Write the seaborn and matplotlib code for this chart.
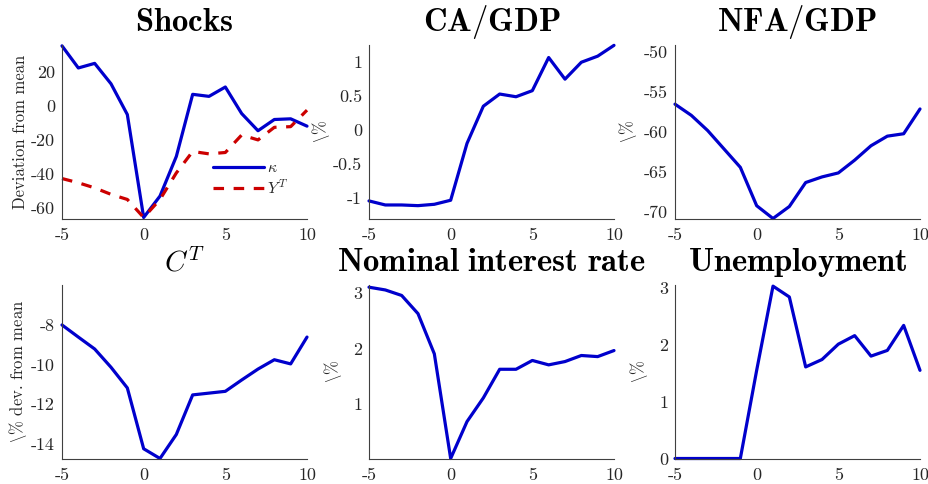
import numpy as np
import pandas as pd
import seaborn as sns
import matplotlib
matplotlib.use("Agg")
import matplotlib.pyplot as plt
from matplotlib.ticker import FuncFormatter, FixedLocator

# ---- data -----------------------------------------------------------------
periods = [-5, -4, -3, -2, -1, 0, 1, 2, 3, 4, 5, 6, 7, 8, 9, 10]

kappa = [35.5, 22.5, 25.2, 13.2, -4.9, -65.4, -52.8, -29.5, 7.0, 5.8, 11.3,
         -4.3, -14.4, -7.8, -7.4, -11.7]
y_tradable = [-42.5, -45.0, -48.0, -51.8, -54.8, -65.4, -54.8, -39.2, -26.6,
              -28.0, -27.2, -16.9, -19.8, -12.4, -12.0, -2.3]
ca_gdp = [-1.05, -1.11, -1.11, -1.12, -1.10, -1.04, -0.20, 0.35, 0.53, 0.49,
          0.58, 1.07, 0.75, 1.00, 1.09, 1.25]
nfa_gdp = [-56.5, -57.9, -59.8, -62.1, -64.4, -69.2, -70.8, -69.3, -66.3,
           -65.6, -65.1, -63.5, -61.7, -60.5, -60.2, -57.1]
c_tradable = [-8.01, -8.62, -9.22, -10.14, -11.18, -14.24, -14.73, -13.52,
              -11.53, -11.44, -11.35, -10.78, -10.23, -9.76, -9.97, -8.62]
nominal_rate = [3.11, 3.06, 2.96, 2.63, 1.90, 0.0, 0.67, 1.10, 1.62, 1.62,
                1.78, 1.70, 1.76, 1.87, 1.85, 1.96]
unemployment = [0.0, 0.0, 0.0, 0.0, 0.0, 1.55, 3.03, 2.84, 1.61, 1.74, 2.01,
                2.16, 1.80, 1.90, 2.34, 1.55]

titles = [r"$\mathbf{Shocks}$", r"$\mathbf{CA/GDP}$", r"$\mathbf{NFA/GDP}$",
          r"$C^T$", r"$\mathbf{Nominal\ interest\ rate}$",
          r"$\mathbf{Unemployment}$"]
ylabels = ["Deviation from mean", r"$\backslash$%", r"$\backslash$%",
           r"$\backslash$% dev. from mean", r"$\backslash$%", r"$\backslash$%"]
xticks = [-5, 0, 5, 10]
yticks = [[-60, -40, -20, 0, 20], [-1, -0.5, 0, 0.5, 1],
          [-70, -65, -60, -55, -50], [-14, -12, -10, -8], [1, 2, 3],
          [0, 1, 2, 3]]
ylims = [(-66, 36), (-1.31, 1.255), (-70.8, -49.1), (-14.73, -6.0),
         (0, 3.15), (0, 3.05)]
legend_labels = [r"$\kappa$", r"$Y^T$"]

# ---- style ----------------------------------------------------------------
sns.set_theme(style="white")
plt.rcParams.update({
    "font.family": ["cmr10", "DejaVu Serif"],
    "mathtext.fontset": "cm",
    "axes.unicode_minus": False,
    "axes.formatter.use_mathtext": True,
    "axes.edgecolor": "#404040",
    "axes.linewidth": 0.8,
    "xtick.color": "#404040",
    "ytick.color": "#404040",
    "xtick.labelcolor": "#262626",
    "ytick.labelcolor": "#262626",
})

BLUE = "#0000cc"
RED = "#cc0000"
LW = 2.3

fig = plt.figure(figsize=(9.29, 4.84), dpi=100)
W, H = 929, 484
col_left = [62, 369, 675]
ax_w = 245
row_top = [45, 285]
ax_h = 173.5

axes = []
for r in range(2):
    for c in range(3):
        rect = [col_left[c] / W, 1 - (row_top[r] + ax_h) / H, ax_w / W, ax_h / H]
        axes.append(fig.add_axes(rect))

series = [None, ca_gdp, nfa_gdp, c_tradable, nominal_rate, unemployment]

# shocks panel: both series from one long table
shocks = pd.DataFrame({
    "period": periods * 2,
    "value": kappa + y_tradable,
    "series": [legend_labels[0]] * len(periods) + [legend_labels[1]] * len(periods),
})
ax0 = axes[0]
sns.lineplot(data=shocks[shocks.series == legend_labels[0]], x="period", y="value",
             ax=ax0, color=BLUE, lw=LW, label=legend_labels[0])
sns.lineplot(data=shocks[shocks.series == legend_labels[1]], x="period", y="value",
             ax=ax0, color=RED, lw=LW, linestyle=(0, (3.3, 3.0)),
             label=legend_labels[1])
leg = ax0.legend(loc="center left", bbox_to_anchor=(0.585, 0.228), frameon=False,
                 fontsize=11.5, handlelength=3.2, handletextpad=0.15,
                 borderpad=0, labelspacing=0.2)

for i in range(1, 6):
    sns.lineplot(x=periods, y=series[i], ax=axes[i], color=BLUE, lw=LW)

label_x = [-0.14, -0.15, -0.145, -0.135, -0.10, -0.10]
fmt = FuncFormatter(lambda v, p: f"{v:g}")
for i, ax in enumerate(axes):
    ax.set_xlim(-5, 10)
    ax.set_ylim(*ylims[i])
    ax.xaxis.set_major_locator(FixedLocator(xticks))
    ax.yaxis.set_major_locator(FixedLocator(yticks[i]))
    ax.xaxis.set_major_formatter(fmt)
    ax.yaxis.set_major_formatter(fmt)
    ax.tick_params(direction="in", length=3, width=0.8, labelsize=13)
    ax.tick_params(axis="x", pad=6.5)
    ax.tick_params(axis="y", pad=5)
    for s in ("top", "right"):
        ax.spines[s].set_visible(False)
    ax.set_xlabel("")
    ax.set_ylabel(ylabels[i], fontsize=12, color="#262626")
    ax.yaxis.set_label_coords(label_x[i], 0.5)
    ax.set_title(titles[i], fontsize=23.5 if i != 3 else 21, pad=10, color="black")
    for line in ax.lines:
        line.set_clip_on(False)

fig.savefig("out.png", dpi=100)
